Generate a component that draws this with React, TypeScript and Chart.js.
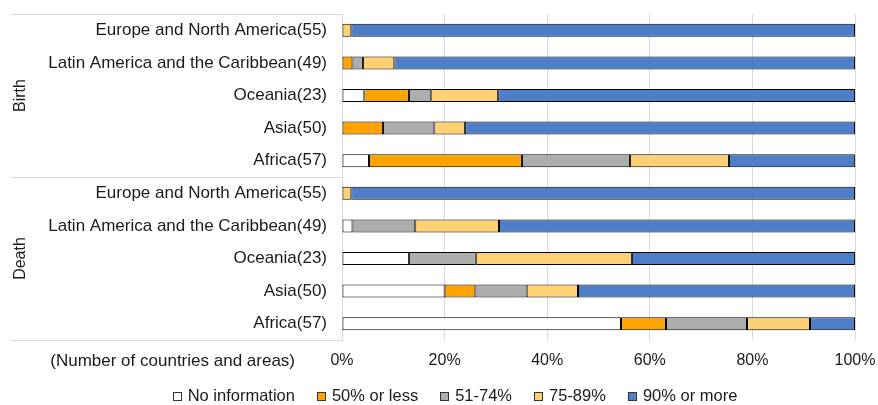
import React, { useEffect, useRef } from 'react';
import { Chart, registerables } from 'chart.js';

Chart.register(...registerables);

// ---- Data (percent of countries/areas) ----
const categories = [
  'Europe and North America(55)',
  'Latin America and the Caribbean(49)',
  'Oceania(23)',
  'Asia(50)',
  'Africa(57)',
  'Europe and North America(55)',
  'Latin America and the Caribbean(49)',
  'Oceania(23)',
  'Asia(50)',
  'Africa(57)',
];
const groupLabels = ['Birth', 'Death'];
const seriesNames = ['No information', '50% or less', '51-74%', '75-89%', '90% or more'];
const noInfo = [0, 0, 4.35, 0, 5.26, 0, 2.04, 13.04, 20, 54.39];
const le50 = [0, 2.04, 8.7, 8, 29.82, 0, 0, 0, 6, 8.77];
const p51to74 = [0, 2.04, 4.35, 10, 21.05, 0, 12.24, 13.04, 10, 15.79];
const p75to89 = [1.82, 6.12, 13.04, 6, 19.3, 1.82, 16.33, 30.43, 10, 12.28];
const ge90 = [98.18, 89.8, 69.57, 76, 24.56, 98.18, 69.39, 43.48, 54, 8.77];
const seriesColors = ['#FFFFFF', '#FFA300', '#ADADAD', '#FFD173', '#4E7EC8'];
const axisNote = '(Number of countries and areas)';

const FONT = "'Liberation Sans', Arial, sans-serif";
const TEXT = '#1a1a1a';
const FRAME = '#d9d9d9';

const framePlugin = {
  id: 'frameAndLegend',
  afterDraw(chart: any) {
    const { ctx, chartArea, scales } = chart;
    const y = scales.y;
    const left = 11;
    const right = chartArea.left;
    const mid = (y.getPixelForTick(4) + y.getPixelForTick(5)) / 2;
    ctx.save();
    ctx.strokeStyle = FRAME;
    ctx.lineWidth = 1;
    [chartArea.top, mid, chartArea.bottom].forEach((py: number) => {
      const yy = Math.round(py) + 0.5;
      ctx.beginPath();
      ctx.moveTo(left, yy);
      ctx.lineTo(right, yy);
      ctx.stroke();
    });

    // group labels
    ctx.fillStyle = TEXT;
    ctx.font = `16px ${FONT}`;
    ctx.textAlign = 'center';
    ctx.textBaseline = 'middle';
    const centers = [
      (chartArea.top + mid) / 2,
      (mid + chartArea.bottom) / 2,
    ];
    groupLabels.forEach((g, i) => {
      ctx.save();
      ctx.translate(21, centers[i]);
      ctx.rotate(-Math.PI / 2);
      ctx.fillText(g, 0, 0);
      ctx.restore();
    });

    // note under the category labels
    ctx.font = `17px ${FONT}`;
    ctx.textAlign = 'right';
    ctx.fillText(axisNote, chartArea.left - 47, chartArea.bottom + 21);

    // legend
    ctx.font = `16.5px ${FONT}`;
    ctx.textAlign = 'left';
    const box = 8;
    const gapText = 7;
    const gapItem = 22;
    const widths = seriesNames.map((n) => box + gapText + ctx.measureText(n).width);
    const total = widths.reduce((a, b) => a + b, 0) + gapItem * (seriesNames.length - 1);
    let x = 455 - total / 2;
    const ly = 396;
    seriesNames.forEach((n, i) => {
      ctx.fillStyle = seriesColors[i];
      ctx.fillRect(x, ly - box / 2, box, box);
      ctx.strokeStyle = '#333333';
      ctx.lineWidth = 1;
      ctx.strokeRect(Math.round(x) + 0.5, Math.round(ly - box / 2) + 0.5, box, box);
      ctx.fillStyle = TEXT;
      ctx.fillText(n, x + box + gapText, ly);
      x += widths[i] + gapItem;
    });
    ctx.restore();
  },
};

export default function App() {
  const ref = useRef<HTMLCanvasElement>(null);

  useEffect(() => {
    document.body.style.margin = '0';
    const canvas = ref.current;
    if (!canvas) return;
    const data = [noInfo, le50, p51to74, p75to89, ge90];
    const chart = new Chart(canvas, {
      type: 'bar',
      data: {
        labels: categories,
        datasets: seriesNames.map((name, i) => ({
          label: name,
          data: data[i],
          backgroundColor: seriesColors[i],
          borderColor: '#000000',
          borderWidth: 1,
          borderSkipped: false,
          categoryPercentage: 1,
          barPercentage: 0.4,
        })),
      },
      options: {
        indexAxis: 'y',
        responsive: false,
        animation: false,
        devicePixelRatio: 1,
        layout: { padding: { top: 14, right: 23, left: 0, bottom: 0 } },
        plugins: {
          legend: { display: false },
          tooltip: { enabled: false },
        },
        scales: {
          x: {
            stacked: true,
            min: 0,
            max: 100,
            ticks: {
              stepSize: 20,
              padding: 11,
              color: TEXT,
              font: { family: FONT, size: 16 },
              callback: (v: any) => `${v}%`,
            },
            grid: { color: FRAME, drawTicks: false },
            border: { display: false },
            afterFit: (s: any) => {
              s.height = 65;
              s.paddingLeft = 0;
              s.paddingRight = 0;
            },
          },
          y: {
            stacked: true,
            ticks: {
              padding: 15,
              color: TEXT,
              font: { family: FONT, size: 17 },
            },
            grid: { display: false, drawTicks: false },
            border: { display: true, color: FRAME },
            afterFit: (s: any) => {
              s.width = 342;
              s.paddingTop = 0;
              s.paddingBottom = 0;
            },
          },
        },
      },
      plugins: [framePlugin],
    });
    return () => chart.destroy();
  }, []);

  return (
    <div style={{ width: 878, height: 405 }}>
      <canvas ref={ref} width={878} height={405} />
    </div>
  );
}
